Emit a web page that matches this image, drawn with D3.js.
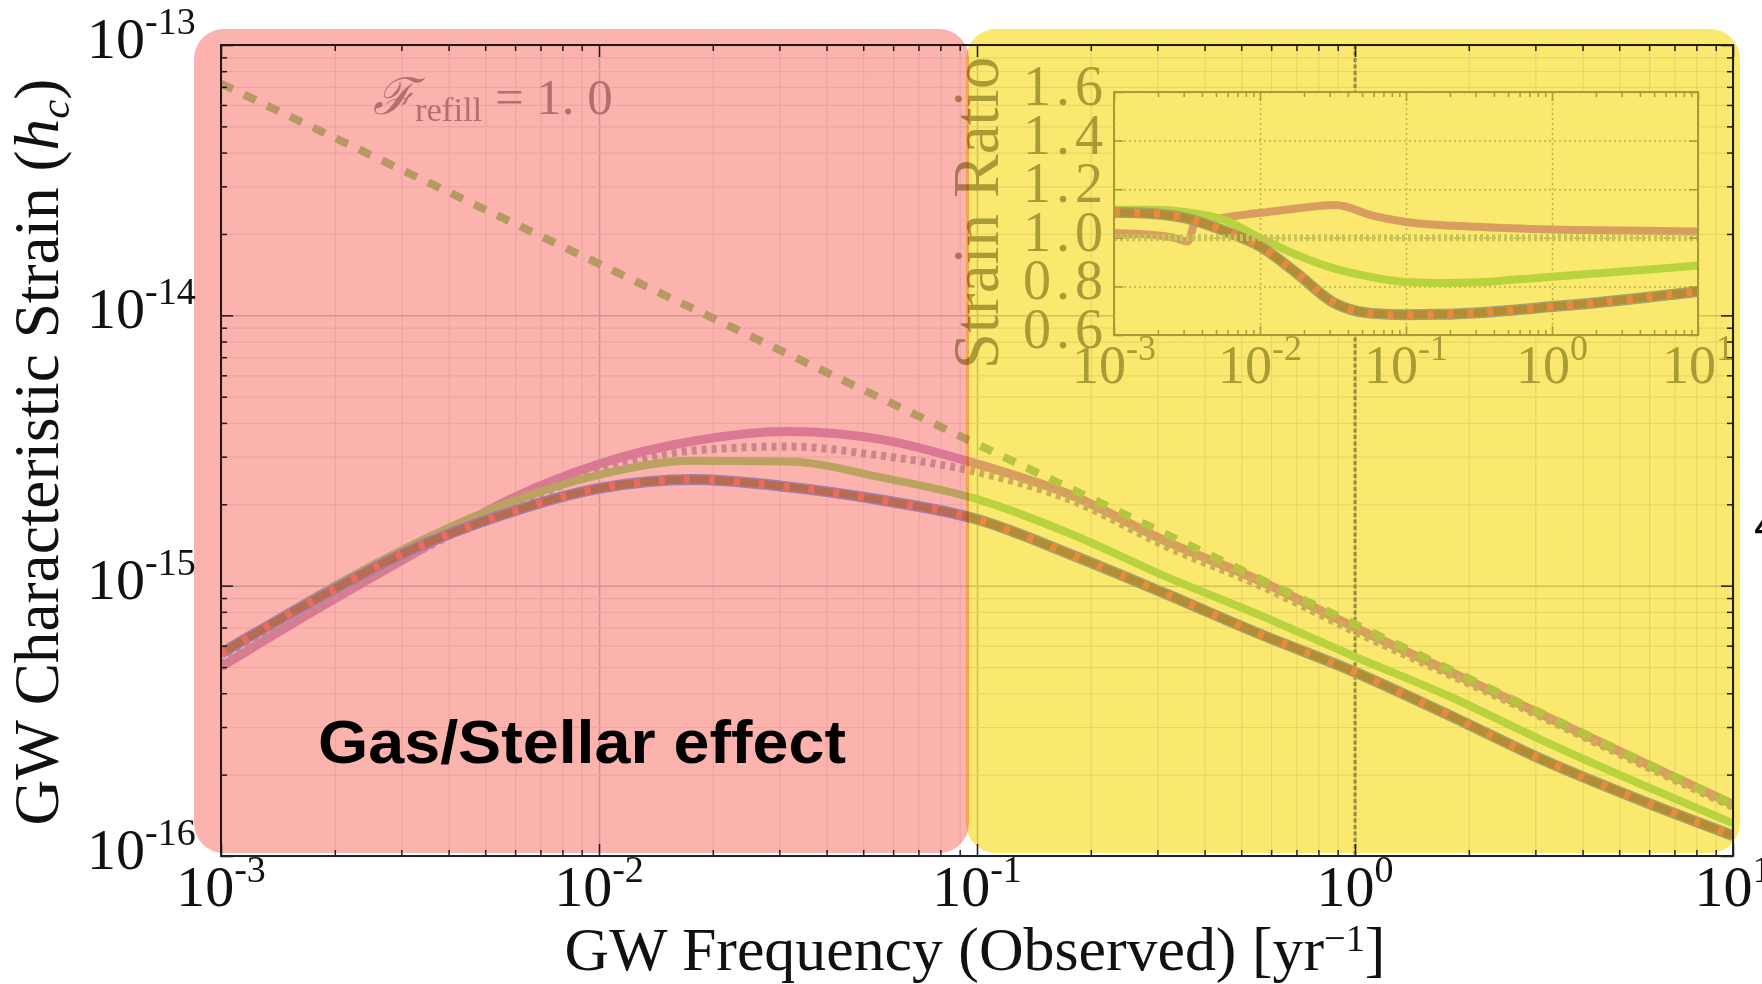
<!DOCTYPE html>
<html>
<head>
<meta charset="utf-8">
<script src="https://cdn.jsdelivr.net/npm/d3@7"></script>
<style>
  html, body { margin: 0; padding: 0; background: #fff; }
  svg { display: block; }
  text { font-family: "Liberation Serif", "DejaVu Serif", serif; }
</style>
</head>
<body>
<svg id="fig" width="1762" height="984"></svg>
<script>
// main panel: characteristic strain vs observed frequency
const freqMain = [1e-3, 1.78e-3, 3.16e-3, 5.62e-3, 1e-2, 1.78e-2, 3.16e-2, 5.62e-2, 0.1, 0.178, 0.316, 0.562, 1, 1.78, 3.16, 5.62, 10];
const strainTop = [5.01e-16, 8.13e-16, 1.29e-15, 2.04e-15, 2.82e-15, 3.43e-15, 3.72e-15, 3.47e-15, 2.82e-15, 2.16e-15, 1.46e-15, 1.04e-15, 7.0e-16, 4.81e-16, 3.31e-16, 2.26e-16, 1.55e-16];
const strainDotted = [5.13e-16, 8.32e-16, 1.29e-15, 1.91e-15, 2.63e-15, 3.16e-15, 3.27e-15, 3.02e-15, 2.63e-15, 2.07e-15, 1.40e-15, 1.0e-15, 6.76e-16, 4.68e-16, 3.24e-16, 2.21e-16, 1.52e-16];
const strainMid = [5.62e-16, 9.12e-16, 1.40e-15, 2.0e-15, 2.57e-15, 2.90e-15, 2.88e-15, 2.51e-15, 2.09e-15, 1.55e-15, 1.08e-15, 7.76e-16, 5.46e-16, 3.89e-16, 2.66e-16, 1.86e-16, 1.32e-16];
const strainLow = [5.62e-16, 8.91e-16, 1.35e-15, 1.84e-15, 2.29e-15, 2.47e-15, 2.32e-15, 2.07e-15, 1.76e-15, 1.30e-15, 9.33e-16, 6.61e-16, 4.79e-16, 3.31e-16, 2.26e-16, 1.62e-16, 1.19e-16];
const freqPow = [1e-3, 1e-2, 1e-1, 1, 10];
const strainPow = [7.2e-14, 1.55e-14, 3.34e-15, 7.2e-16, 1.55e-16];

// inset: strain ratio
const ratioMid = [1.115, 1.115, 1.105, 1.075, 1.0, 0.93, 0.875, 0.84, 0.818, 0.814, 0.817, 0.828, 0.84, 0.851, 0.862, 0.874, 0.886];
const ratioLow = [1.105, 1.10, 1.08, 1.03, 0.965, 0.855, 0.735, 0.69, 0.683, 0.685, 0.692, 0.703, 0.717, 0.73, 0.745, 0.762, 0.779];
const freqRatioTop = [1e-3, 2.0e-3, 2.6e-3, 3.2e-3, 3.6e-3, 6e-3, 1.3e-2, 3.3e-2, 6e-2, 0.1, 0.3, 1, 3, 10];
const ratioTop = [1.02, 1.01, 1.0, 0.985, 1.06, 1.085, 1.11, 1.135, 1.09, 1.065, 1.045, 1.034, 1.03, 1.026];
const freqRatioRef = [1e-3, 10];
const ratioRef = [1.0, 1.0];

// ticks
const xMajor = [1e-3, 1e-2, 1e-1, 1, 10];
const xExp = ["-3", "-2", "-1", "0", "1"];
const yMajor = [1e-16, 1e-15, 1e-14, 1e-13];
const yExp = ["-16", "-15", "-14", "-13"];
const ratioTicks = [0.6, 0.8, 1.0, 1.2, 1.4, 1.6];
const ratioTickLabels = ["0.6", "0.8", "1.0", "1.2", "1.4", "1.6"];

const col = {
    pink: "#FCB3AE", yellow: "#FAE86F",
    gridMinor: "#EDEDED", gridMajor: "#D4D4D4", frame: "#222", unity: "#999",
    top: "#DEADDB", dotted: "#CFBECD", mid: "#BCE88C", pow: "#BAD894",
    lowEdge: "#A5B4FF", lowBody: "#B99976", lowDash: "#EE9989",
    inset: "#ADAA78", insetGrid: "#C4C2A8", refLine: "#CDD7C8", note: "#B49EA2"
};

const W = 1762, H = 984;
const svg = d3.select("#fig");
svg.append("rect").attr("width", W).attr("height", H).attr("fill", "#fff");

const mp = {left: 221, right: 1733, top: 45, bottom: 856};
const xs = d3.scaleLog().domain([1e-3, 10]).range([mp.left, mp.right]);
const ys = d3.scaleLog().domain([1e-16, 1e-13]).range([mp.bottom, mp.top]);

const isMajor = v => Math.abs(Math.log10(v) - Math.round(Math.log10(v))) < 1e-6;
const xMinor = xs.ticks().filter(v => !isMajor(v));
const yMinor = ys.ticks().filter(v => !isMajor(v));

function styleAxis(g, color, width) {
    g.select(".domain").remove();
    g.selectAll("line").attr("stroke", color).attr("stroke-width", width);
}

// grid
[[xMinor, col.gridMinor, 1.2], [xMajor, col.gridMajor, 1.5]].forEach(([vals, c, w]) => {
    svg.append("g").attr("transform", `translate(0,${mp.bottom})`)
        .call(d3.axisBottom(xs).tickValues(vals).tickSize(-(mp.bottom - mp.top)).tickFormat(""))
        .call(g => styleAxis(g, c, w));
});
[[yMinor, col.gridMinor, 1.2], [yMajor, col.gridMajor, 1.5]].forEach(([vals, c, w]) => {
    svg.append("g").attr("transform", `translate(${mp.left},0)`)
        .call(d3.axisLeft(ys).tickValues(vals).tickSize(-(mp.right - mp.left)).tickFormat(""))
        .call(g => styleAxis(g, c, w));
});

// vertical dashed line at 1/yr
svg.append("line")
    .attr("x1", xs(1)).attr("x2", xs(1))
    .attr("y1", mp.top).attr("y2", mp.bottom)
    .style("stroke", col.unity).style("stroke-width", 3)
    .style("stroke-dasharray", "4 2.5");

svg.append("clipPath").attr("id", "clipMain")
    .append("rect").attr("x", mp.left).attr("y", mp.top)
    .attr("width", mp.right - mp.left).attr("height", mp.bottom - mp.top);

function drawSeries(g, fx, fy, pts, layers) {
    let ln = d3.line().x(d => fx(d[0])).y(d => fy(d[1])).curve(d3.curveMonotoneX);
    layers.forEach(s => {
        g.append("path").datum(pts).attr("d", ln)
            .style("fill", "none")
            .style("stroke", s.c)
            .style("stroke-width", s.w)
            .style("stroke-dasharray", s.dash || null)
            .style("stroke-linejoin", "round");
    });
}

const gMain = svg.append("g").attr("clip-path", "url(#clipMain)");
drawSeries(gMain, xs, ys, d3.zip(freqMain, strainTop), [{c: col.top, w: 9}]);
drawSeries(gMain, xs, ys, d3.zip(freqMain, strainDotted), [{c: col.dotted, w: 8, dash: "5 5"}]);
drawSeries(gMain, xs, ys, d3.zip(freqMain, strainMid), [{c: col.mid, w: 8}]);
drawSeries(gMain, xs, ys, d3.zip(freqMain, strainLow), [
    {c: col.lowEdge, w: 11}, {c: col.lowBody, w: 8}, {c: col.lowDash, w: 8, dash: "6 19"}]);
drawSeries(gMain, xs, ys, d3.zip(freqPow, strainPow), [{c: col.pow, w: 8, dash: "13 12.5"}]);

// frame and inward ticks
svg.append("rect").attr("x", mp.left).attr("y", mp.top)
    .attr("width", mp.right - mp.left).attr("height", mp.bottom - mp.top)
    .style("fill", "none").style("stroke", col.frame).style("stroke-width", 2);

[[xMinor, 6], [xMajor, 12]].forEach(([vals, len]) => {
    svg.append("g").attr("transform", `translate(0,${mp.bottom})`)
        .call(d3.axisBottom(xs).tickValues(vals).tickSize(-len).tickFormat(""))
        .call(g => styleAxis(g, col.frame, 1.5));
    svg.append("g").attr("transform", `translate(0,${mp.top})`)
        .call(d3.axisTop(xs).tickValues(vals).tickSize(-len).tickFormat(""))
        .call(g => styleAxis(g, col.frame, 1.5));
});
[[yMinor, 6], [yMajor, 12]].forEach(([vals, len]) => {
    svg.append("g").attr("transform", `translate(${mp.left},0)`)
        .call(d3.axisLeft(ys).tickValues(vals).tickSize(-len).tickFormat(""))
        .call(g => styleAxis(g, col.frame, 1.5));
    svg.append("g").attr("transform", `translate(${mp.right},0)`)
        .call(d3.axisRight(ys).tickValues(vals).tickSize(-len).tickFormat(""))
        .call(g => styleAxis(g, col.frame, 1.5));
});

// tick labels
svg.selectAll(".xlab")
    .data(xMajor)
    .enter()
    .append("text")
    .attr("class", "xlab")
    .attr("x", d => xs(d))
    .attr("y", 906)
    .style("text-anchor", "middle")
    .style("font-size", "58px")
    .style("fill", "#111")
    .each(function(d, i) {
        d3.select(this).append("tspan").text("10");
        d3.select(this).append("tspan").attr("dy", -24).style("font-size", "38px").text(xExp[i]);
    });

svg.selectAll(".ylab")
    .data(yMajor)
    .enter()
    .append("text")
    .attr("class", "ylab")
    .attr("x", 87)
    .attr("y", d => ys(d) + 13)
    .style("font-size", "58px")
    .style("fill", "#111")
    .each(function(d, i) {
        d3.select(this).append("tspan").text("10");
        d3.select(this).append("tspan").attr("dy", -24).style("font-size", "38px").text(yExp[i]);
    });

function fitWidth(sel, w) {
    let bw = sel.node().getBBox().width;
    let fs = parseFloat(sel.style("font-size"));
    sel.style("font-size", (fs * w / bw) + "px");
}

let xTitle = svg.append("text")
    .attr("x", 975).attr("y", 970)
    .style("text-anchor", "middle").style("font-size", "56px").style("fill", "#111");
xTitle.append("tspan").text("GW Frequency (Observed) [yr");
xTitle.append("tspan").attr("dy", "-0.5em").style("font-size", "0.62em").text("\u22121");
xTitle.append("tspan").attr("dy", "0.31em").text("]");
fitWidth(xTitle, 821);

let yTitle = svg.append("text")
    .attr("transform", "translate(58,452) rotate(-90)")
    .style("text-anchor", "middle").style("font-size", "56px").style("fill", "#111");
yTitle.append("tspan").text("GW Characteristic Strain (");
yTitle.append("tspan").style("font-style", "italic").text("h");
yTitle.append("tspan").attr("dy", "0.25em").style("font-size", "0.68em").style("font-style", "italic").text("c");
yTitle.append("tspan").attr("dy", "-0.17em").text(")");
fitWidth(yTitle, 747);

let note = svg.append("text")
    .attr("x", 373).attr("y", 114)
    .style("font-size", "48px").style("fill", col.note);
note.append("tspan").style("font-style", "italic").text("\u2131");
note.append("tspan").attr("dy", "0.2em").style("font-size", "0.68em").text("refill");
note.append("tspan").attr("dy", "-0.14em").text(" = 1. 0");
fitWidth(note, 240);

// inset
const ip = {left: 1114, right: 1698, top: 92, bottom: 335};
const xi = d3.scaleLog().domain([1e-3, 10]).range([ip.left, ip.right]);
const yi = d3.scaleLinear().domain([0.6, 1.6]).range([ip.bottom, ip.top]);
const xiMinor = xi.ticks().filter(v => !isMajor(v));

svg.append("rect").attr("x", ip.left).attr("y", ip.top)
    .attr("width", ip.right - ip.left).attr("height", ip.bottom - ip.top)
    .style("fill", "#fff");

svg.append("g").attr("transform", `translate(0,${ip.bottom})`)
    .call(d3.axisBottom(xi).tickValues(xMajor).tickSize(-(ip.bottom - ip.top)).tickFormat(""))
    .call(g => styleAxis(g, col.insetGrid, 1.5))
    .selectAll("line").style("stroke-dasharray", "2 3");
svg.append("g").attr("transform", `translate(${ip.left},0)`)
    .call(d3.axisLeft(yi).tickValues(ratioTicks).tickSize(-(ip.right - ip.left)).tickFormat(""))
    .call(g => styleAxis(g, col.insetGrid, 1.5))
    .selectAll("line").style("stroke-dasharray", "2 3");

svg.append("clipPath").attr("id", "clipInset")
    .append("rect").attr("x", ip.left).attr("y", ip.top)
    .attr("width", ip.right - ip.left).attr("height", ip.bottom - ip.top);

const gIn = svg.append("g").attr("clip-path", "url(#clipInset)");
drawSeries(gIn, xi, yi, d3.zip(freqRatioTop, ratioTop), [{c: col.top, w: 8}]);
drawSeries(gIn, xi, yi, d3.zip(freqMain, ratioMid), [{c: col.mid, w: 8}]);
drawSeries(gIn, xi, yi, d3.zip(freqMain, ratioLow), [
    {c: col.lowEdge, w: 11}, {c: col.lowBody, w: 8}, {c: col.lowDash, w: 8, dash: "6 14"}]);
drawSeries(gIn, xi, yi, d3.zip(freqRatioRef, ratioRef), [{c: col.refLine, w: 7, dash: "3 3"}]);

svg.append("rect").attr("x", ip.left).attr("y", ip.top)
    .attr("width", ip.right - ip.left).attr("height", ip.bottom - ip.top)
    .style("fill", "none").style("stroke", col.inset).style("stroke-width", 2);

[[xiMinor, 5], [xMajor, 9]].forEach(([vals, len]) => {
    svg.append("g").attr("transform", `translate(0,${ip.bottom})`)
        .call(d3.axisBottom(xi).tickValues(vals).tickSize(-len).tickFormat(""))
        .call(g => styleAxis(g, col.inset, 1.5));
    svg.append("g").attr("transform", `translate(0,${ip.top})`)
        .call(d3.axisTop(xi).tickValues(vals).tickSize(-len).tickFormat(""))
        .call(g => styleAxis(g, col.inset, 1.5));
});
svg.append("g").attr("transform", `translate(${ip.left},0)`)
    .call(d3.axisLeft(yi).tickValues(ratioTicks).tickSize(-9).tickFormat(""))
    .call(g => styleAxis(g, col.inset, 1.5));
svg.append("g").attr("transform", `translate(${ip.right},0)`)
    .call(d3.axisRight(yi).tickValues(ratioTicks).tickSize(-9).tickFormat(""))
    .call(g => styleAxis(g, col.inset, 1.5));

svg.selectAll(".rlab")
    .data(ratioTicks)
    .enter()
    .append("text")
    .attr("class", "rlab")
    .attr("x", 1108)
    .attr("y", d => yi(d) + 13)
    .text((d, i) => ratioTickLabels[i])
    .style("text-anchor", "end")
    .style("font-size", "56px")
    .style("letter-spacing", "5px")
    .style("fill", col.inset);

svg.selectAll(".xilab")
    .data(xMajor)
    .enter()
    .append("text")
    .attr("class", "xilab")
    .attr("x", d => xi(d))
    .attr("y", 383)
    .style("text-anchor", "middle")
    .style("font-size", "54px")
    .style("fill", col.inset)
    .each(function(d, i) {
        d3.select(this).append("tspan").text("10");
        d3.select(this).append("tspan").attr("dy", -23).style("font-size", "36px").text(xExp[i]);
    });

svg.append("text")
    .attr("transform", "translate(998,213) rotate(-90)")
    .style("text-anchor", "middle").style("font-size", "65px").style("fill", col.inset)
    .text("Strain Ratio");

// slide highlight boxes
svg.append("rect")
    .attr("x", 194).attr("y", 29).attr("width", 775).attr("height", 824)
    .attr("rx", 30).attr("ry", 30)
    .style("fill", col.pink).style("mix-blend-mode", "multiply");
svg.append("rect")
    .attr("x", 966).attr("y", 29).attr("width", 774).attr("height", 824)
    .attr("rx", 30).attr("ry", 30)
    .style("fill", col.yellow).style("mix-blend-mode", "multiply");

svg.append("text")
    .attr("x", 318).attr("y", 763)
    .attr("textLength", 528).attr("lengthAdjust", "spacingAndGlyphs")
    .style("font-family", "'Liberation Sans', Arial, sans-serif")
    .style("font-weight", "bold").style("font-size", "62px").style("fill", "#000")
    .text("Gas/Stellar effect");

svg.append("text")
    .attr("x", 1754).attr("y", 541)
    .style("font-family", "'Liberation Sans', Arial, sans-serif")
    .style("font-size", "48px").style("fill", "#000")
    .text("4");
</script>
</body>
</html>
